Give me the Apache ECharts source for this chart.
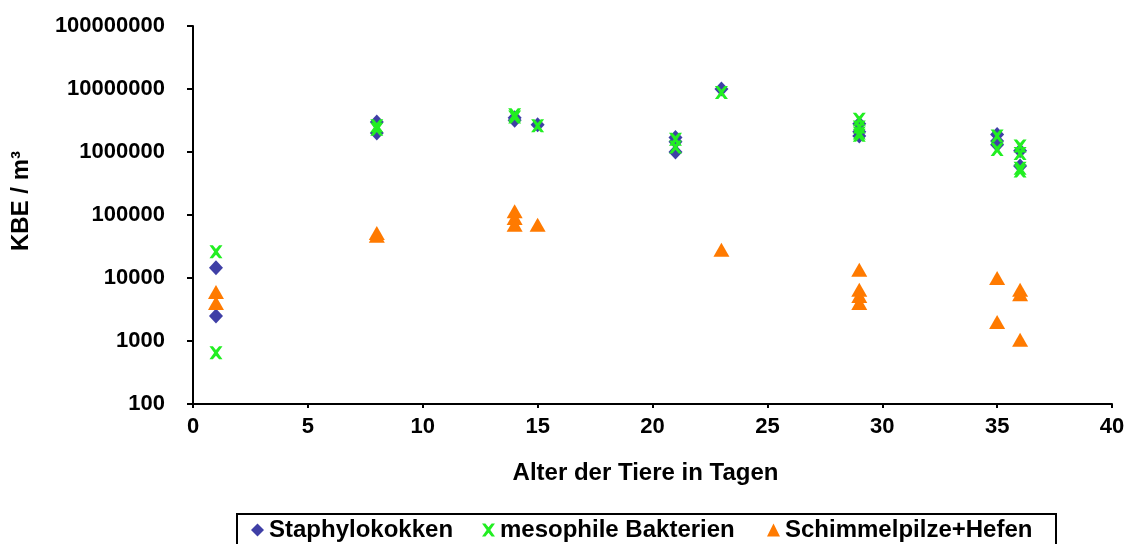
<!DOCTYPE html>
<html>
<head>
<meta charset="utf-8">
<script src="https://cdn.jsdelivr.net/npm/echarts@6/dist/echarts.min.js"></script>
<style>
  html, body { margin: 0; padding: 0; background: #ffffff; }
  #chart { width: 1127px; height: 544px; }
</style>
</head>
<body>
<div id="chart"></div>
<script>
// Airborne germ counts (KBE per m³) by age of the animals in days
const seriesNames = ['Staphylokokken', 'mesophile Bakterien', 'Schimmelpilze+Hefen'];

const staphylokokken = [
  [1, 14500], [1, 2500],
  [8, 3000000], [8, 2000000],
  [14, 3200000], [14, 3500000], [15, 2700000],
  [21, 1700000], [21, 1450000], [21, 1000000],
  [23, 10000000],
  [29, 2800000], [29, 2100000], [29, 1800000],
  [35, 1900000], [35, 1500000], [35, 1300000],
  [36, 1050000], [36, 600000]
];

const mesophileBakterien = [
  [1, 26000], [1, 650],
  [8, 2600000], [8, 2300000],
  [14, 3900000], [14, 3600000], [15, 2600000],
  [21, 1600000], [21, 1200000],
  [23, 8800000],
  [29, 3300000], [29, 2500000], [29, 2000000], [29, 1850000],
  [35, 1800000], [35, 1100000],
  [36, 1250000], [36, 950000], [36, 550000], [36, 500000]
];

const schimmelpilzeHefen = [
  [1, 6000], [1, 4000],
  [8, 52000], [8, 47000],
  [14, 115000], [14, 90000], [14, 70000], [15, 70000],
  [23, 28000],
  [29, 13500], [29, 6500], [29, 5200], [29, 4000],
  [35, 10000], [35, 2000],
  [36, 6500], [36, 5500], [36, 1050]
];

const xTicks = { min: 0, max: 40, interval: 5 };
const yTicks = { min: 100, max: 100000000 };

const FONT = '"Liberation Sans", Arial, Helvetica, sans-serif';
const crossPath = 'path://M0,0 L2.6,0 L5,2.8 L7.4,0 L10,0 L6.4,5 L10,10 L7.4,10 L5,7.2 L2.6,10 L0,10 L3.6,5 Z';

const COLORS = ['#3f3fa6', '#22ee22', '#ff7a00'];
const ICONS = ['diamond', crossPath, 'triangle'];
const legendLeft = [251, 482, 767];

const labelStyle = { fontFamily: FONT, fontWeight: 'bold', color: '#000' };

const chart = echarts.init(document.getElementById('chart'), null, { renderer: 'canvas' });

chart.setOption({
  animation: false,
  backgroundColor: '#ffffff',
  textStyle: { fontFamily: FONT },
  grid: { left: 193, right: 15, top: 26, bottom: 140, containLabel: false, outerBoundsMode: 'none' },
  xAxis: {
    type: 'value',
    min: xTicks.min, max: xTicks.max, interval: xTicks.interval,
    name: 'Alter der Tiere in Tagen',
    nameLocation: 'middle',
    nameGap: 57,
    nameTextStyle: Object.assign({ fontSize: 24, padding: [0, 14, 0, 0] }, labelStyle),
    axisLine: { show: true, onZero: false, lineStyle: { color: '#000', width: 2 } },
    axisTick: { show: true, inside: false, length: 4, lineStyle: { color: '#000', width: 2 } },
    axisLabel: Object.assign({ fontSize: 22, margin: 12 }, labelStyle),
    splitLine: { show: false }
  },
  yAxis: {
    type: 'log',
    logBase: 10,
    min: yTicks.min, max: yTicks.max,
    name: 'KBE / m³',
    nameLocation: 'middle',
    nameGap: 160,
    nameRotate: 90,
    nameTextStyle: Object.assign({ fontSize: 24, padding: [0, 0, 0, 28] }, labelStyle),
    axisLine: { show: true, lineStyle: { color: '#000', width: 2 } },
    axisTick: { show: true, inside: false, length: 6, lineStyle: { color: '#000', width: 2 } },
    axisLabel: Object.assign({ fontSize: 22, margin: 28, formatter: v => String(Math.round(v)) }, labelStyle),
    splitLine: { show: false },
    minorTick: { show: false }
  },
  // legend frame
  graphic: [{
    type: 'rect',
    shape: { x: 237, y: 514, width: 819, height: 40 },
    style: { fill: '#fff', stroke: '#000', lineWidth: 2 },
    z: 0
  }],
  legend: seriesNames.map((name, i) => ({
    left: legendLeft[i],
    top: 518,
    padding: 0,
    itemWidth: 13,
    itemHeight: 13,
    itemGap: 0,
    z: 10,
    textStyle: Object.assign({ fontSize: 24 }, labelStyle),
    data: [{ name: name, icon: ICONS[i] }]
  })),
  series: [
    {
      name: seriesNames[0],
      type: 'scatter',
      symbol: ICONS[0],
      symbolSize: [14, 15],
      itemStyle: { color: COLORS[0], opacity: 1 },
      data: staphylokokken
    },
    {
      name: seriesNames[1],
      type: 'scatter',
      symbol: ICONS[1],
      symbolSize: 13,
      itemStyle: { color: COLORS[1], opacity: 1 },
      data: mesophileBakterien
    },
    {
      name: seriesNames[2],
      type: 'scatter',
      symbol: ICONS[2],
      symbolSize: [16, 14],
      itemStyle: { color: COLORS[2], opacity: 1 },
      data: schimmelpilzeHefen
    }
  ]
});
</script>
</body>
</html>
